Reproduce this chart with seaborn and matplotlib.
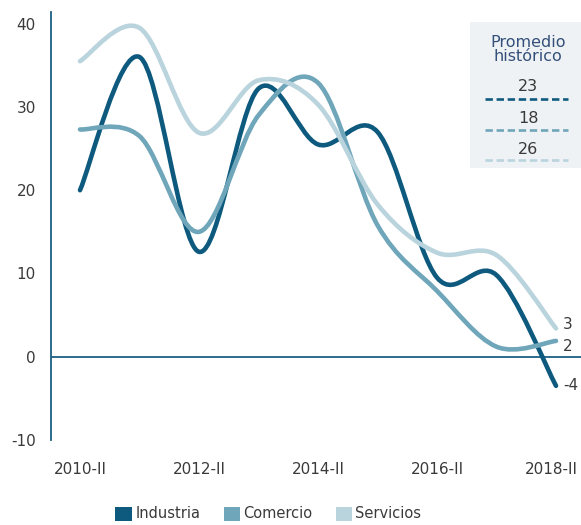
import numpy as np
import pandas as pd
import matplotlib
matplotlib.use("Agg")
import matplotlib.pyplot as plt
import matplotlib.transforms as mtransforms
import seaborn as sns
from matplotlib.path import Path
from matplotlib.patches import PathPatch, Patch, Rectangle
from matplotlib.lines import Line2D

# ---------------- data ----------------
periodos = ["2010-II", "2011-II", "2012-II", "2013-II", "2014-II",
            "2015-II", "2016-II", "2017-II", "2018-II"]
industria = [20.0, 36.0, 12.6, 32.2, 25.5, 27.0, 9.5, 9.8, -3.5]
comercio = [27.3, 26.5, 15.0, 29.0, 32.9, 15.8, 7.9, 1.2, 1.9]
servicios = [35.5, 39.5, 26.9, 33.2, 30.3, 18.3, 12.5, 12.2, 3.4]
sectores = ["Industria", "Comercio", "Servicios"]
promedios = [23, 18, 26]
ticks_x = ["2010-II", "2012-II", "2014-II", "2016-II", "2018-II"]
ticks_y = [-10, 0, 10, 20, 30, 40]

colores = ["#0e5a7e", "#6fa6ba", "#bad4de"]
texto = "#3a3a3a"
eje = "#1d5f82"

df = pd.DataFrame({
    "periodo": periodos * 3,
    "pos": list(range(len(periodos))) * 3,
    "valor": industria + comercio + servicios,
    "sector": [s for s in sectores for _ in periodos],
})

# ---------------- figure ----------------
sns.set_theme(style="white")
plt.rcParams["font.family"] = ["DejaVu Sans"]

fig = plt.figure(figsize=(5.81, 5.25), dpi=100)
ax = fig.add_axes([0.0878, 0.162, 0.9122, 0.815])

sns.lineplot(data=df, x="pos", y="valor", hue="sector", hue_order=sectores,
             palette=colores, legend=False, ax=ax, linewidth=3.3, sort=True)


def smooth_path(xy):
    """Catmull-Rom curve through the data points expressed as cubic Bezier."""
    P = np.vstack([xy[0], xy, xy[-1]])
    verts = [P[1]]
    codes = [Path.MOVETO]
    for i in range(1, len(P) - 2):
        c1 = P[i] + (P[i + 1] - P[i - 1]) / 6.0
        c2 = P[i + 1] - (P[i + 2] - P[i]) / 6.0
        verts += [c1, c2, P[i + 1]]
        codes += [Path.CURVE4] * 3
    return Path(verts, codes)


for line, col in zip(list(ax.lines), colores):
    xy = line.get_xydata()
    patch = PathPatch(smooth_path(xy), facecolor="none", edgecolor=col,
                      linewidth=3.3, capstyle="round", joinstyle="round",
                      zorder=3)
    ax.add_patch(patch)
    line.remove()

ax.axhline(0, color=eje, lw=1.3, zorder=2)

ax.set_xlim(-0.487, 8.42)
ax.set_ylim(-10, 41.4)
ax.set_xticks([0, 2, 4, 6, 8])
ax.set_xticklabels(ticks_x)
ax.set_yticks(ticks_y)
ax.set_yticklabels([str(v) for v in ticks_y])
ax.tick_params(axis="both", length=0, colors=texto)
ax.tick_params(axis="x", pad=16, labelsize=11)
ax.tick_params(axis="y", pad=11, labelsize=11)
ax.set_xlabel("")
ax.set_ylabel("")
for s in ["top", "right", "bottom"]:
    ax.spines[s].set_visible(False)
ax.spines["left"].set_color(eje)
ax.spines["left"].set_linewidth(1.3)
ax.grid(False)

# keep the last x label inside the figure
last = ax.get_xticklabels()[-1]
last.set_transform(last.get_transform() +
                   mtransforms.ScaledTranslation(-5 / 100, 0, fig.dpi_scale_trans))

# end labels
finales = [industria[-1], comercio[-1], servicios[-1]]
offs = [0, -4, 3]
for v, o in zip(finales, offs):
    ax.annotate(f"{round(v):d}", xy=(len(periodos) - 1, v), xytext=(5, o),
                textcoords="offset points", ha="left", va="center",
                fontsize=11, color=texto)

# historical average box
ax.add_patch(Rectangle((0.79, 0.636), 0.21, 0.341, transform=ax.transAxes,
                       facecolor="#eef2f4", edgecolor="none", zorder=1,
                       clip_on=False))
ax.text(0.9, 0.912, "Promedio\nhistórico", transform=ax.transAxes,
        ha="center", va="center", fontsize=11.5, color="#34507a",
        linespacing=0.95, zorder=4)
num_y = [0.825, 0.752, 0.678]
dash_y = [0.797, 0.724, 0.654]
for p, ny, dy, col in zip(promedios, num_y, dash_y, colores):
    ax.text(0.9, ny, str(p), transform=ax.transAxes, ha="center",
            va="center", fontsize=11.5, color=texto, zorder=4)
    ax.add_line(Line2D([0.819, 0.975], [dy, dy], transform=ax.transAxes,
                       color=col, lw=1.9, dashes=(2.8, 1.4), zorder=4,
                       clip_on=False))

# legend
handles = [Patch(facecolor=c, edgecolor="none") for c in colores]
fig.legend(handles, sectores, loc="center", bbox_to_anchor=(0.462, 0.021),
           ncol=3, frameon=False, fontsize=10.5, handlelength=1.1,
           handleheight=1.1, handletextpad=0.25, columnspacing=1.6,
           labelcolor=texto, borderaxespad=0)

fig.savefig("out.png", dpi=100)
